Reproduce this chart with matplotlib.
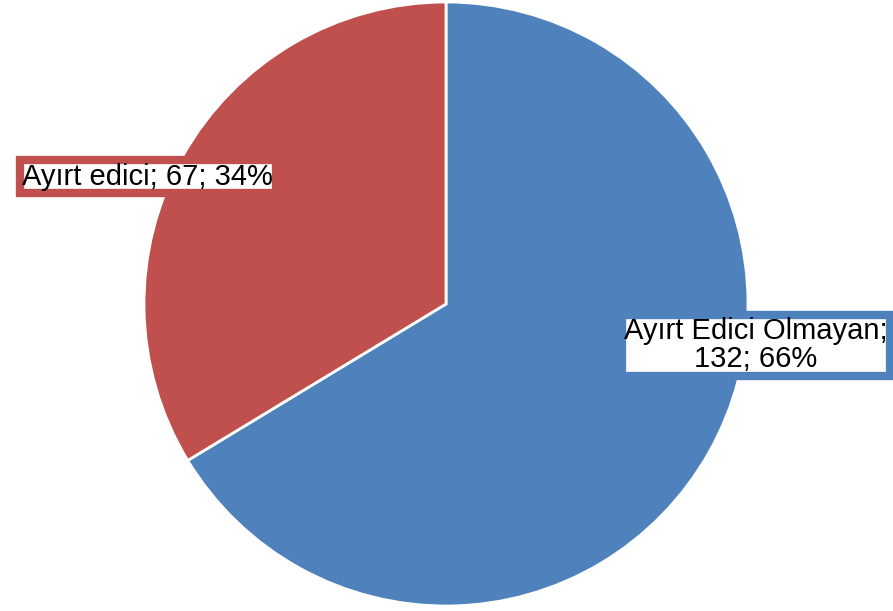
import matplotlib.pyplot as plt

labels = ['Ayırt Edici Olmayan', 'Ayırt edici']
values = [132, 67]
colors = ['#4F81BD', '#C0504D']

plt.rcParams['font.family'] = ['Liberation Sans', 'DejaVu Sans']

fig = plt.figure(figsize=(8.93, 6.11), dpi=100)
ax = fig.add_axes([0, 0, 1, 1])

wedges, _ = ax.pie(values, colors=colors, startangle=90, counterclock=False,
                   radius=1, wedgeprops=dict(edgecolor='white', linewidth=2))

ax.set_aspect('equal')
ax.set_xlim(-446 / 302, 447 / 302)
ax.set_ylim(-307 / 302, 304 / 302)
ax.axis('off')

total = sum(values)
pcts = [round(v / total * 100) for v in values]

# etiketler
ax.text(1.026, -0.137, f'{labels[0]};\n{values[0]}; {pcts[0]}%', ha='center', va='center',
        fontsize=21, linespacing=1.0,
        bbox=dict(boxstyle='square,pad=0.08', facecolor='white', edgecolor=colors[0], linewidth=6))
ax.text(-0.987, 0.422, f'{labels[1]}; {values[1]}; {pcts[1]}%', ha='center', va='center',
        fontsize=21,
        bbox=dict(boxstyle='square,pad=0.08', facecolor='white', edgecolor=colors[1], linewidth=6))

fig.savefig('out.png', dpi=100)
